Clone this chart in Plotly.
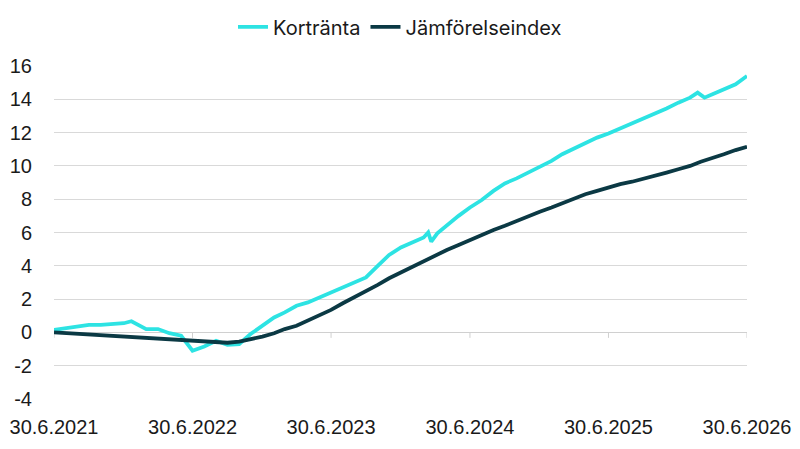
import plotly.graph_objects as go

# ---- data ----
kort_dates = [
    "2021-06-30", "2021-07-31", "2021-08-31", "2021-09-30", "2021-10-31", "2021-11-30",
    "2021-12-31", "2022-01-20", "2022-01-31", "2022-02-28", "2022-03-31", "2022-04-30",
    "2022-05-31", "2022-06-30", "2022-07-31", "2022-08-31", "2022-09-30", "2022-10-31",
    "2022-11-30", "2022-12-31", "2023-01-31", "2023-02-28", "2023-03-31", "2023-04-30",
    "2023-05-31", "2023-06-30", "2023-07-31", "2023-08-31", "2023-09-30", "2023-10-31",
    "2023-11-30", "2023-12-31", "2024-01-31", "2024-02-29", "2024-03-12", "2024-03-20",
    "2024-04-05", "2024-04-30", "2024-05-31", "2024-06-30", "2024-07-31", "2024-08-31",
    "2024-09-30", "2024-10-31", "2024-11-30", "2024-12-31", "2025-01-31", "2025-02-28",
    "2025-03-31", "2025-04-30", "2025-05-31", "2025-06-30", "2025-07-31", "2025-08-31",
    "2025-09-30", "2025-10-31", "2025-11-30", "2025-12-31", "2026-01-31", "2026-02-20",
    "2026-03-10", "2026-03-31", "2026-04-30", "2026-05-31", "2026-06-30",
]
kort_values = [
    0.15, 0.25, 0.35, 0.45, 0.45, 0.5,
    0.55, 0.67, 0.55, 0.2, 0.2, -0.05,
    -0.2, -1.1, -0.85, -0.5, -0.75, -0.7,
    -0.1, 0.4, 0.9, 1.2, 1.6, 1.8,
    2.1, 2.4, 2.65, 2.95, 3.3, 4.0,
    4.65, 5.1, 5.4, 5.7, 6.0, 5.45,
    5.95, 6.45, 7.0, 7.5, 7.95, 8.5,
    8.95, 9.25, 9.6, 9.95, 10.3, 10.7,
    11.05, 11.4, 11.7, 11.95, 12.25, 12.55,
    12.85, 13.15, 13.45, 13.8, 14.1, 14.4,
    14.1, 14.3, 14.6, 14.9, 15.4,
]

jamf_dates = [
    "2021-06-30", "2021-08-31", "2021-10-31", "2021-12-31", "2022-02-28", "2022-04-30",
    "2022-06-30", "2022-07-31", "2022-08-31", "2022-09-30", "2022-10-31", "2022-11-30",
    "2022-12-31", "2023-01-31", "2023-02-28", "2023-03-31", "2023-04-30", "2023-05-31",
    "2023-06-30", "2023-07-31", "2023-08-31", "2023-09-30", "2023-10-31", "2023-11-30",
    "2023-12-31", "2024-01-31", "2024-02-29", "2024-03-31", "2024-04-30", "2024-05-31",
    "2024-06-30", "2024-07-31", "2024-08-31", "2024-09-30", "2024-10-31", "2024-11-30",
    "2024-12-31", "2025-01-31", "2025-02-28", "2025-03-31", "2025-04-30", "2025-05-31",
    "2025-06-30", "2025-07-31", "2025-08-31", "2025-09-30", "2025-10-31", "2025-11-30",
    "2025-12-31", "2026-01-31", "2026-02-28", "2026-03-31", "2026-04-30", "2026-05-31",
    "2026-06-30",
]
jamf_values = [
    0.0, -0.08, -0.16, -0.24, -0.32, -0.4,
    -0.5, -0.55, -0.6, -0.62, -0.55, -0.42,
    -0.25, -0.05, 0.2, 0.4, 0.7, 1.0,
    1.35, 1.75, 2.1, 2.45, 2.85, 3.25,
    3.6, 3.95, 4.3, 4.65, 4.95, 5.25,
    5.55, 5.85, 6.15, 6.4, 6.7, 6.95,
    7.25, 7.5, 7.75, 8.05, 8.3, 8.5,
    8.7, 8.9, 9.05, 9.25, 9.45, 9.6,
    9.8, 10.0, 10.25, 10.45, 10.7, 10.95,
    11.15,
]

tick_dates = ["2021-06-30", "2022-06-30", "2023-06-30", "2024-06-30", "2025-06-30", "2026-06-30"]
tick_labels = ["30.6.2021", "30.6.2022", "30.6.2023", "30.6.2024", "30.6.2025", "30.6.2026"]
y_ticks = [-4, -2, 0, 2, 4, 6, 8, 10, 12, 14, 16]
y_tick_labels = ["-4", "-2", "0", "2", "4", "6", "8", "10", "12", "14", "16"]

CYAN = "#2DE3E3"
DARK = "#0B3944"
TICKFONT = dict(family="'Liberation Sans', Arial, sans-serif", size=20, color="#1a1a1a")

fig = go.Figure()
fig.add_trace(go.Scatter(x=kort_dates, y=kort_values, mode="lines", name="Kortränta",
                         line=dict(color=CYAN, width=3.8)))
fig.add_trace(go.Scatter(x=jamf_dates, y=jamf_values, mode="lines", name="Jämförelseindex",
                         line=dict(color=DARK, width=3.8)))

# small tick marks on the zero line
for d in tick_dates:
    fig.add_shape(type="line", xref="x", yref="y", x0=d, x1=d, y0=0, y1=-0.33,
                  line=dict(color="#D0D0D0", width=1), layer="below")

fig.update_layout(
    width=800, height=449,
    margin=dict(l=54, r=53, t=66, b=50, autoexpand=False),
    plot_bgcolor="white", paper_bgcolor="white",
    showlegend=True,
    legend=dict(orientation="h", x=0.5, xanchor="center", xref="container",
                y=0.94, yanchor="middle", yref="container",
                font=dict(family="Inter, sans-serif", size=20, color="#1a1a1a"),
                itemwidth=30),
    font=TICKFONT,
)

fig.update_xaxes(
    type="date", range=["2021-06-30", "2026-06-30"],
    tickvals=tick_dates, ticktext=tick_labels,
    showgrid=False, zeroline=False, showline=False,
    ticks="outside", ticklen=10, tickcolor="rgba(0,0,0,0)",
    tickfont=TICKFONT,
)
fig.update_yaxes(
    range=[-4, 16], tickvals=y_ticks, ticktext=y_tick_labels,
    showgrid=True, gridcolor="#D9D9D9", gridwidth=1,
    zeroline=True, zerolinecolor="#D0D0D0", zerolinewidth=1,
    showline=False, ticks="outside", ticklen=17, tickcolor="rgba(0,0,0,0)",
    tickfont=TICKFONT,
)

fig.write_html("out.html")
